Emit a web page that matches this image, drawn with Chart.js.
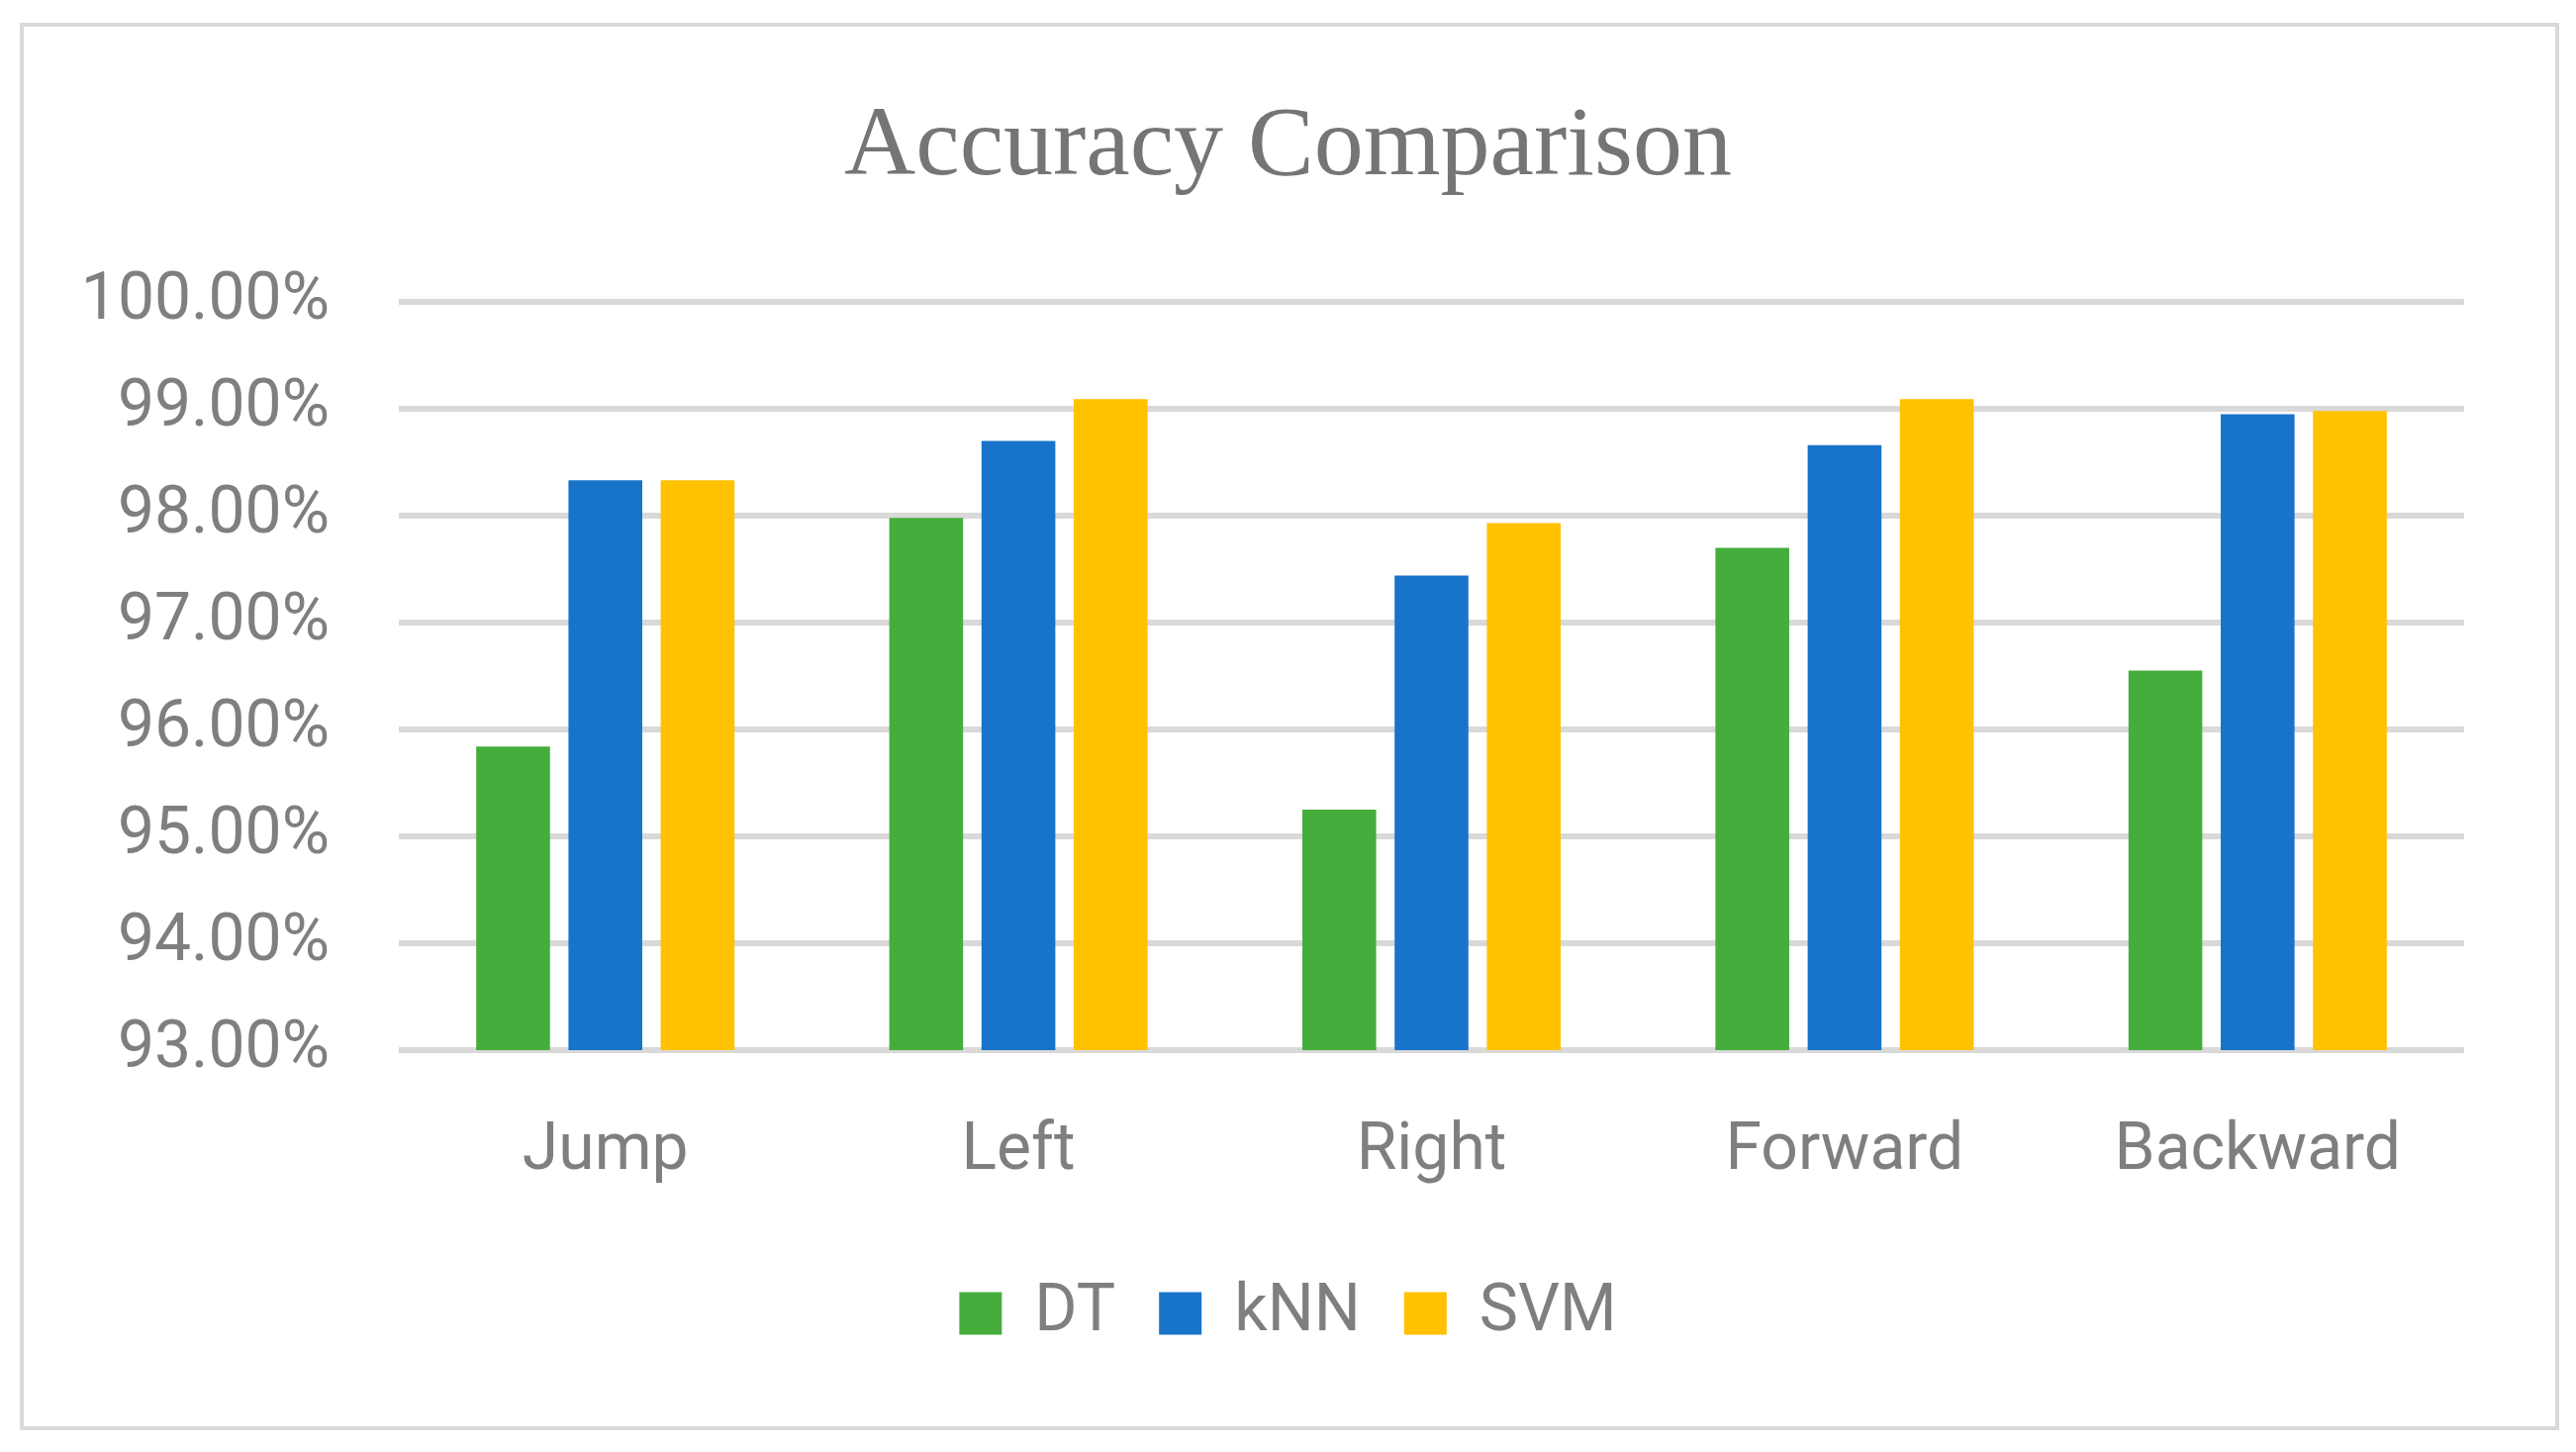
<!DOCTYPE html>
<html>
<head>
<meta charset="utf-8">
<script src="https://cdn.jsdelivr.net/npm/chart.js@4/dist/chart.umd.min.js"></script>
<style>
  html, body { margin: 0; padding: 0; background: #fff; }
  #frame {
    position: absolute; left: 20px; top: 23px;
    width: 2558px; height: 1414px;
    border: 4px solid #d9d9d9;
  }
  #accChart { position: absolute; left: 0; top: 0; }
</style>
</head>
<body>
<div id="frame"></div>
<canvas id="accChart" width="2603" height="1467"></canvas>
<script>
// accuracy per movement
var categories = ['Jump', 'Left', 'Right', 'Forward', 'Backward'];
var dtValues = [95.84, 97.98, 95.25, 97.70, 96.55];
var knnValues = [98.33, 98.70, 97.44, 98.66, 98.95];
var svmValues = [98.33, 99.09, 97.93, 99.09, 98.98];
var yTicks = [93, 94, 95, 96, 97, 98, 99, 100];

var labelFont = 'Roboto';
var textGrey = '#7f7f7f';

document.addEventListener("DOMContentLoaded", function () {
    var ctx = document.getElementById('accChart').getContext('2d');
    var myChart = new Chart(ctx, {
        type: 'bar',
        data: {
            labels: categories,
            datasets: [{
                label: 'DT',
                data: dtValues,
                backgroundColor: '#45ad3c'
            }, {
                label: 'kNN',
                data: knnValues,
                backgroundColor: '#1874ca'
            }, {
                label: 'SVM',
                data: svmValues,
                backgroundColor: '#ffc100'
            }]
        },
        options: {
            responsive: false,
            animation: false,
            devicePixelRatio: 1,
            layout: {
                padding: { left: 0, right: 0, top: 0, bottom: 97 }
            },
            datasets: {
                bar: {
                    categoryPercentage: 0.67,
                    barPercentage: 0.8
                }
            },
            scales: {
                x: {
                    grid: { display: false },
                    border: { display: false },
                    ticks: {
                        color: textGrey,
                        padding: 56,
                        font: { family: labelFont, size: 66 }
                    },
                    afterFit: function (scale) { scale.height = 189; }
                },
                y: {
                    min: yTicks[0],
                    max: yTicks[yTicks.length - 1],
                    afterBuildTicks: function (scale) {
                        scale.ticks = yTicks.map(function (v) { return { value: v }; });
                    },
                    grid: {
                        color: '#d9d9d9',
                        lineWidth: 6,
                        drawTicks: false
                    },
                    border: { display: false },
                    ticks: {
                        color: textGrey,
                        padding: 70,
                        font: { family: labelFont, size: 66 },
                        callback: function (value) { return value.toFixed(2) + '%'; }
                    },
                    afterFit: function (scale) { scale.width = 403; }
                },
                // empty right axis, only reserves the white space on the right
                yRight: {
                    position: 'right',
                    grid: { display: false },
                    border: { display: false },
                    ticks: { display: false },
                    afterFit: function (scale) { scale.width = 113; }
                }
            },
            plugins: {
                title: {
                    display: true,
                    text: 'Accuracy Comparison',
                    color: '#757575',
                    font: { family: 'Liberation Serif', size: 100, weight: 'normal', lineHeight: 1.2 },
                    padding: { top: 90, bottom: 95 }
                },
                legend: {
                    position: 'bottom',
                    labels: {
                        color: textGrey,
                        boxWidth: 43,
                        boxHeight: 43,
                        padding: 44,
                        font: { family: labelFont, size: 66 }
                    }
                },
                tooltip: { enabled: false }
            }
        }
    });
});
</script>
</body>
</html>
